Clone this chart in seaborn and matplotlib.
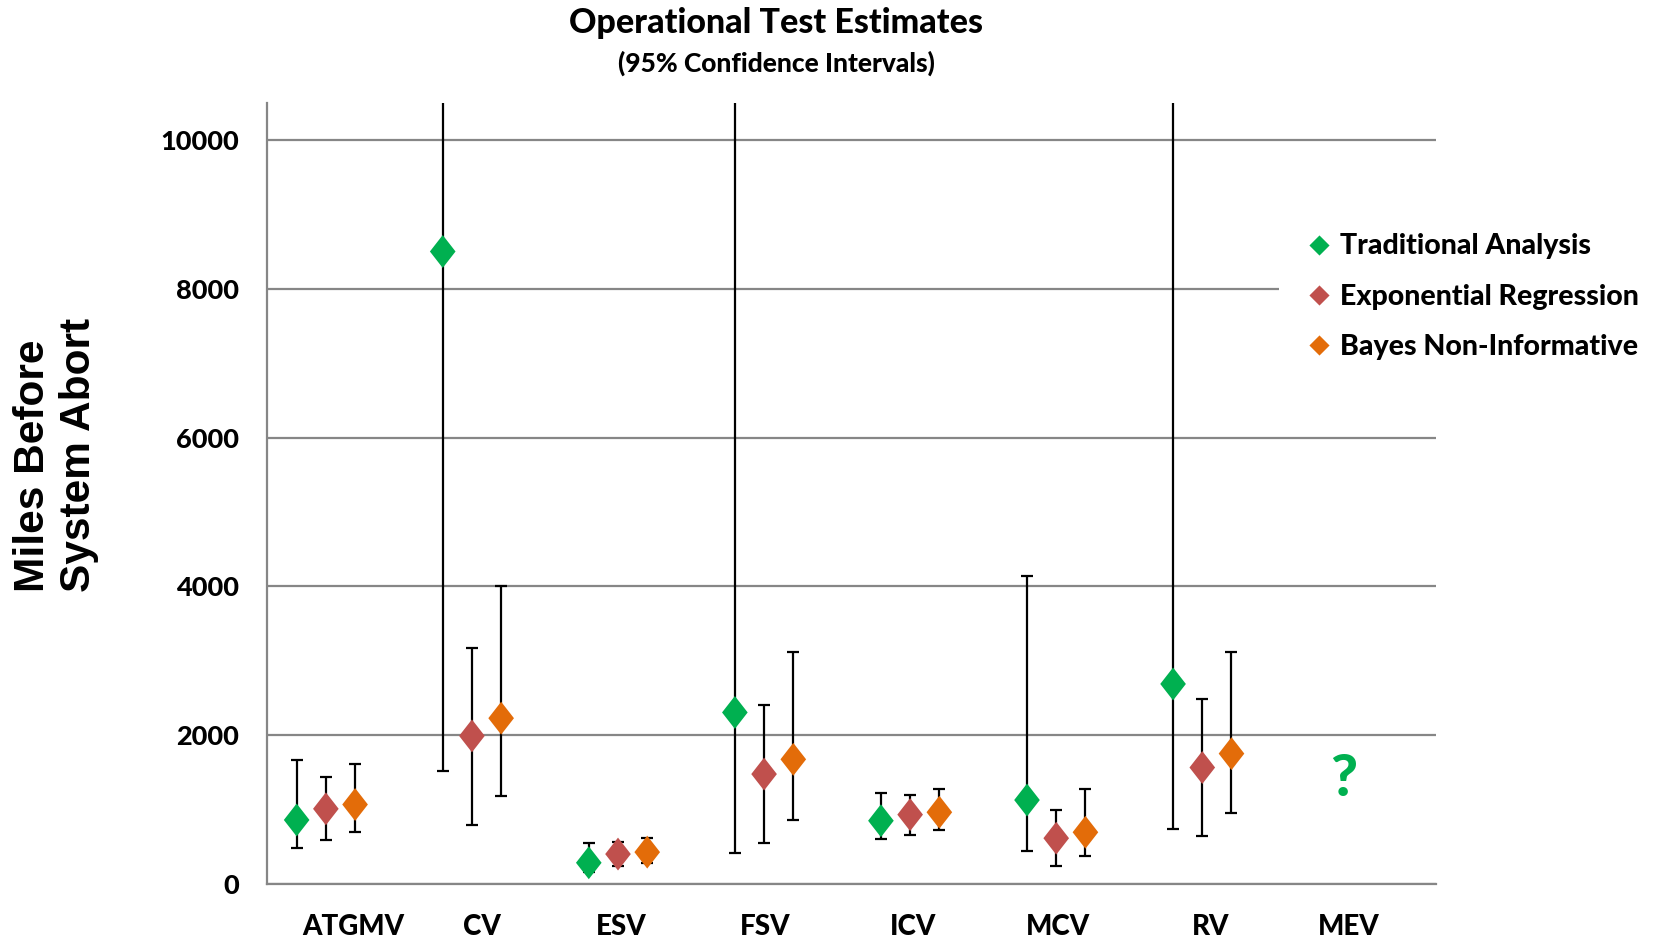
import numpy as np
import pandas as pd
import matplotlib
matplotlib.use("Agg")
import matplotlib.pyplot as plt
from matplotlib.lines import Line2D
import seaborn as sns

# ---------------- data ----------------
categories = ["ATGMV", "CV", "ESV", "FSV", "ICV", "MCV", "RV", "MEV"]
series = ["Traditional Analysis", "Exponential Regression", "Bayes Non-Informative"]

trad_est = [860, 8500, 285, 2305, 850, 1128, 2688, np.nan]
trad_lo = [485, 1520, 160, 410, 608, 438, 740, np.nan]
trad_hi = [1665, 15000, 545, 15000, 1225, 4145, 15000, np.nan]

expo_est = [1010, 1990, 402, 1477, 932, 615, 1565, np.nan]
expo_lo = [588, 795, 240, 552, 663, 243, 645, np.nan]
expo_hi = [1432, 3170, 560, 2400, 1195, 995, 2490, np.nan]

bayes_est = [1068, 2228, 428, 1675, 964, 695, 1752, np.nan]
bayes_lo = [705, 1188, 282, 862, 722, 372, 950, np.nan]
bayes_hi = [1608, 4000, 615, 3120, 1280, 1280, 3122, np.nan]

mev_note = "?"
mev_note_value = 1400

colors = ["#00B050", "#C0504D", "#E36C09"]

# ---------------- build table ----------------
n_slots = 4  # the original chart reserves four slots per category
slot_w = 0.8 / n_slots
offsets = [-0.4 + slot_w / 2 + k * slot_w for k in range(n_slots)]

ests = [trad_est, expo_est, bayes_est]
los = [trad_lo, expo_lo, bayes_lo]
his = [trad_hi, expo_hi, bayes_hi]

rows = []
for s_i, s in enumerate(series):
    for c_i, c in enumerate(categories):
        rows.append(dict(series=s, category=c, pos=c_i + offsets[s_i],
                         est=ests[s_i][c_i], lo=los[s_i][c_i], hi=his[s_i][c_i]))
df = pd.DataFrame(rows).dropna()

# ---------------- figure ----------------
sns.set_theme(style="white")
plt.rcParams["font.family"] = ["Lato", "DejaVu Sans"]
plt.rcParams["text.color"] = "black"
plt.rcParams["axes.labelcolor"] = "black"
plt.rcParams["xtick.color"] = "black"
plt.rcParams["ytick.color"] = "black"
W = "black"

fig = plt.figure(figsize=(16.58, 9.42), dpi=100)
ax = fig.add_axes([0.1613, 0.0616, 0.8661 - 0.1613, 0.891 - 0.0616])

grid_c = "#868686"

# error bars
for s_i, s in enumerate(series):
    d = df[df.series == s]
    ax.errorbar(d.pos, d.est, yerr=[d.est - d.lo, d.hi - d.est], fmt="none",
                ecolor="black", elinewidth=1.6, capsize=4.5, capthick=1.6, zorder=3)

diamond = [(0, 1), (0.78, 0), (0, -1), (-0.78, 0), (0, 1)]
sns.scatterplot(data=df, x="pos", y="est", hue="series", hue_order=series,
                palette=colors, marker=diamond, s=560, linewidth=0,
                legend=False, ax=ax, zorder=4, clip_on=True)

ax.text(categories.index("MEV") + offsets[1] - 0.03, mev_note_value, mev_note,
        color=colors[0], fontsize=42, fontweight=W, ha="center", va="center")

# axes styling
ax.set_xlim(-0.5, len(categories) - 0.5)
ax.set_ylim(0, 10500)
ax.set_yticks(np.arange(0, 10001, 2000))
ax.yaxis.grid(True, color=grid_c, linewidth=1.6)
ax.xaxis.grid(False)
ax.set_axisbelow(True)
for sp in ["top", "right"]:
    ax.spines[sp].set_visible(False)
for sp in ["left", "bottom"]:
    ax.spines[sp].set_color(grid_c)
    ax.spines[sp].set_linewidth(1.6)

ax.set_xticks(np.arange(-0.5, len(categories), 1.0))
ax.set_xticklabels([])
ax.tick_params(axis="x", which="major", length=7, width=1.6, color=grid_c, direction="out")
ax.tick_params(axis="y", length=7, width=1.6, color=grid_c, labelcolor="black",
               direction="out", labelsize=19.5, pad=13.5)
for lab in ax.get_yticklabels():
    lab.set_fontweight(W)
ax.set_xlabel("")
ax.set_ylabel("")

# category labels (text boxes slightly nudged as in the original slide)
label_nudge = [0.09, -0.03, -0.08, -0.09, -0.08, -0.09, -0.04, -0.10]
for i, (c, nd) in enumerate(zip(categories, label_nudge)):
    ax.text(i + nd, -43 / 743.4 * 10000, c, ha="center", va="center",
            fontsize=20, fontweight=W, color="black", clip_on=False)

# legend
leg_diamond = [(0, 1), (1, 0), (0, -1), (-1, 0), (0, 1)]
handles = [Line2D([0], [0], marker=leg_diamond, linestyle="none", markersize=14.5,
                  markerfacecolor=c, markeredgewidth=0) for c in colors]
leg = fig.legend(handles, series, loc="upper left", bbox_to_anchor=(1279 / 1658, 1 - 205 / 942),
                 frameon=True, facecolor="white", edgecolor="none", framealpha=1,
                 fontsize=20.5, handlelength=0.8, handletextpad=0.35, labelspacing=0.85,
                 borderpad=1.0, borderaxespad=0)
for t in leg.get_texts():
    t.set_fontweight(W)
    t.set_color("black")

# titles
fig.text(0.468, 1 - 23 / 942, "Operational Test Estimates", ha="center", va="center",
         fontsize=24.5, fontweight=W, color="black")
fig.text(0.468, 1 - 63 / 942, "(95% Confidence Intervals)", ha="center", va="center",
         fontsize=19, fontweight=W, color="black")

# y label
fig.text(56 / 1658, 1 - 455 / 942, "Miles Before\nSystem Abort", rotation=90,
         ha="center", va="center", multialignment="left", linespacing=1.2,
         fontsize=30.5, fontweight="bold", color="black",
         family=["Liberation Sans", "DejaVu Sans"])

fig.savefig("out.png", dpi=100)
